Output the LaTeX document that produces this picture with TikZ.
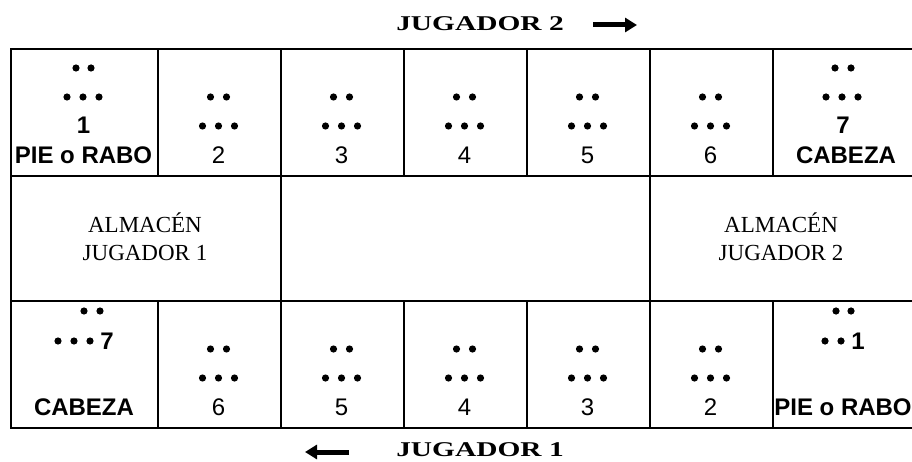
\documentclass[tikz,border=0pt]{standalone}
\usepackage{fontspec}
\setmainfont{Liberation Sans}
\newfontfamily\almfont{Liberation Serif}
\newfontfamily\headfont{Liberation Serif}
\usetikzlibrary{arrows.meta}
\begin{document}
\begin{tikzpicture}[x=1pt,y=-1pt,
  cell/.style={draw, line width=1.7pt, inner sep=0, anchor=north west},
  dot/.style={circle, fill, inner sep=0, minimum size=7.2pt},
  num/.style={font=\fontsize{24}{24}\selectfont, inner sep=0},
  bnum/.style={font=\fontsize{24}{24}\selectfont\bfseries, inner sep=0},
  alm/.style={font=\almfont\fontsize{23}{28}\selectfont, align=center, inner sep=0},
  head/.style={font=\headfont\bfseries\fontsize{21}{21}\selectfont, inner sep=0},
  harrow/.style={-{Triangle[length=12pt,width=14pt]}, line width=5pt}
]
\useasboundingbox (0,0) rectangle (912,462);
% top row
\node[cell, minimum width=147pt, minimum height=127pt] (t1) at (10,48) {};
\foreach \i/\x in {2/157,3/280,4/403,5/526,6/649}
  \node[cell, minimum width=123pt, minimum height=127pt] (t\i) at (\x,48) {};
\node[cell, minimum width=144pt, minimum height=127pt] (t7) at (772,48) {};
% middle row
\node[cell, minimum width=270pt, minimum height=125pt] (m1) at (10,175) {};
\node[cell, minimum width=369pt, minimum height=125pt] (m2) at (280,175) {};
\node[cell, minimum width=265pt, minimum height=125pt] (m3) at (649,175) {};
% bottom row
\node[cell, minimum width=147pt, minimum height=127pt] (b7) at (10,300) {};
\foreach \i/\x in {6/157,5/280,4/403,3/526,2/649}
  \node[cell, minimum width=123pt, minimum height=127pt] (b\i) at (\x,300) {};
\node[cell, minimum width=144pt, minimum height=127pt] (b1) at (772,300) {};

% top cell 1
\node[dot] (t1a) at (76,68) {};
\node[dot] (t1b) at (91,68) {};
\node[dot] (t1c) at (67,97) {};
\node[dot] (t1d) at (83,97) {};
\node[dot] (t1e) at (99,97) {};
\node[bnum] (t1n) at (83.5,125) {1};
\node[bnum] (t1l) at (83.5,155) {PIE o RABO};
% top cells 2-6
\foreach \i/\c in {2/218.5,3/341.5,4/464.5,5/587.5,6/710.5}{
  \node[dot] (t\i a) at ({\c-8},97) {};
  \node[dot] (t\i b) at ({\c+8},97) {};
  \node[dot] (t\i c) at ({\c-16},126) {};
  \node[dot] (t\i d) at (\c,126) {};
  \node[dot] (t\i e) at ({\c+16},126) {};
  \node[num] (t\i n) at (\c,155) {\i};
}
% top cell 7
\node[dot] (t7a) at (835,68) {};
\node[dot] (t7b) at (851,68) {};
\node[dot] (t7c) at (826,97) {};
\node[dot] (t7d) at (842,97) {};
\node[dot] (t7e) at (858,97) {};
\node[bnum] (t7n) at (843,125) {7};
\node[bnum] (t7l) at (846,155) {CABEZA};

% middle
\node[alm] (alm1) at (145,237) {ALMACÉN\\JUGADOR 1};
\node[alm] (alm2) at (781,237) {ALMACÉN\\JUGADOR 2};

% bottom cell 7
\node[dot] (b7a) at (84,311) {};
\node[dot] (b7b) at (100,311) {};
\node[dot] (b7c) at (58,341) {};
\node[dot] (b7d) at (74,341) {};
\node[dot] (b7e) at (90,341) {};
\node[bnum] (b7n) at (107,341) {7};
\node[bnum] (b7l) at (84,407) {CABEZA};
% bottom cells 6-2
\foreach \i/\c in {6/218.5,5/341.5,4/464.5,3/587.5,2/710.5}{
  \node[dot] (b\i a) at ({\c-8},349) {};
  \node[dot] (b\i b) at ({\c+8},349) {};
  \node[dot] (b\i c) at ({\c-16},378) {};
  \node[dot] (b\i d) at (\c,378) {};
  \node[dot] (b\i e) at ({\c+16},378) {};
  \node[num] (b\i n) at (\c,407) {\i};
}
% bottom cell 1
\node[dot] (b1a) at (836,311) {};
\node[dot] (b1b) at (851,311) {};
\node[dot] (b1c) at (825,341) {};
\node[dot] (b1d) at (841,341) {};
\node[bnum] (b1n) at (858,341) {1};
\node[bnum] (b1l) at (843,407) {PIE o RABO};

% headings
\node[head] (j2) at (480,24) {\scalebox{1.4}[1]{JUGADOR 2}};
\coordinate (a2s) at (593,25);
\coordinate (a2e) at (637,25);
\draw[harrow] (a2s) -- (a2e);
\node[head] (j1) at (480,450) {\scalebox{1.4}[1]{JUGADOR 1}};
\coordinate (a1s) at (349,452);
\coordinate (a1e) at (305,452);
\draw[harrow] (a1s) -- (a1e);
\end{tikzpicture}
\end{document}
